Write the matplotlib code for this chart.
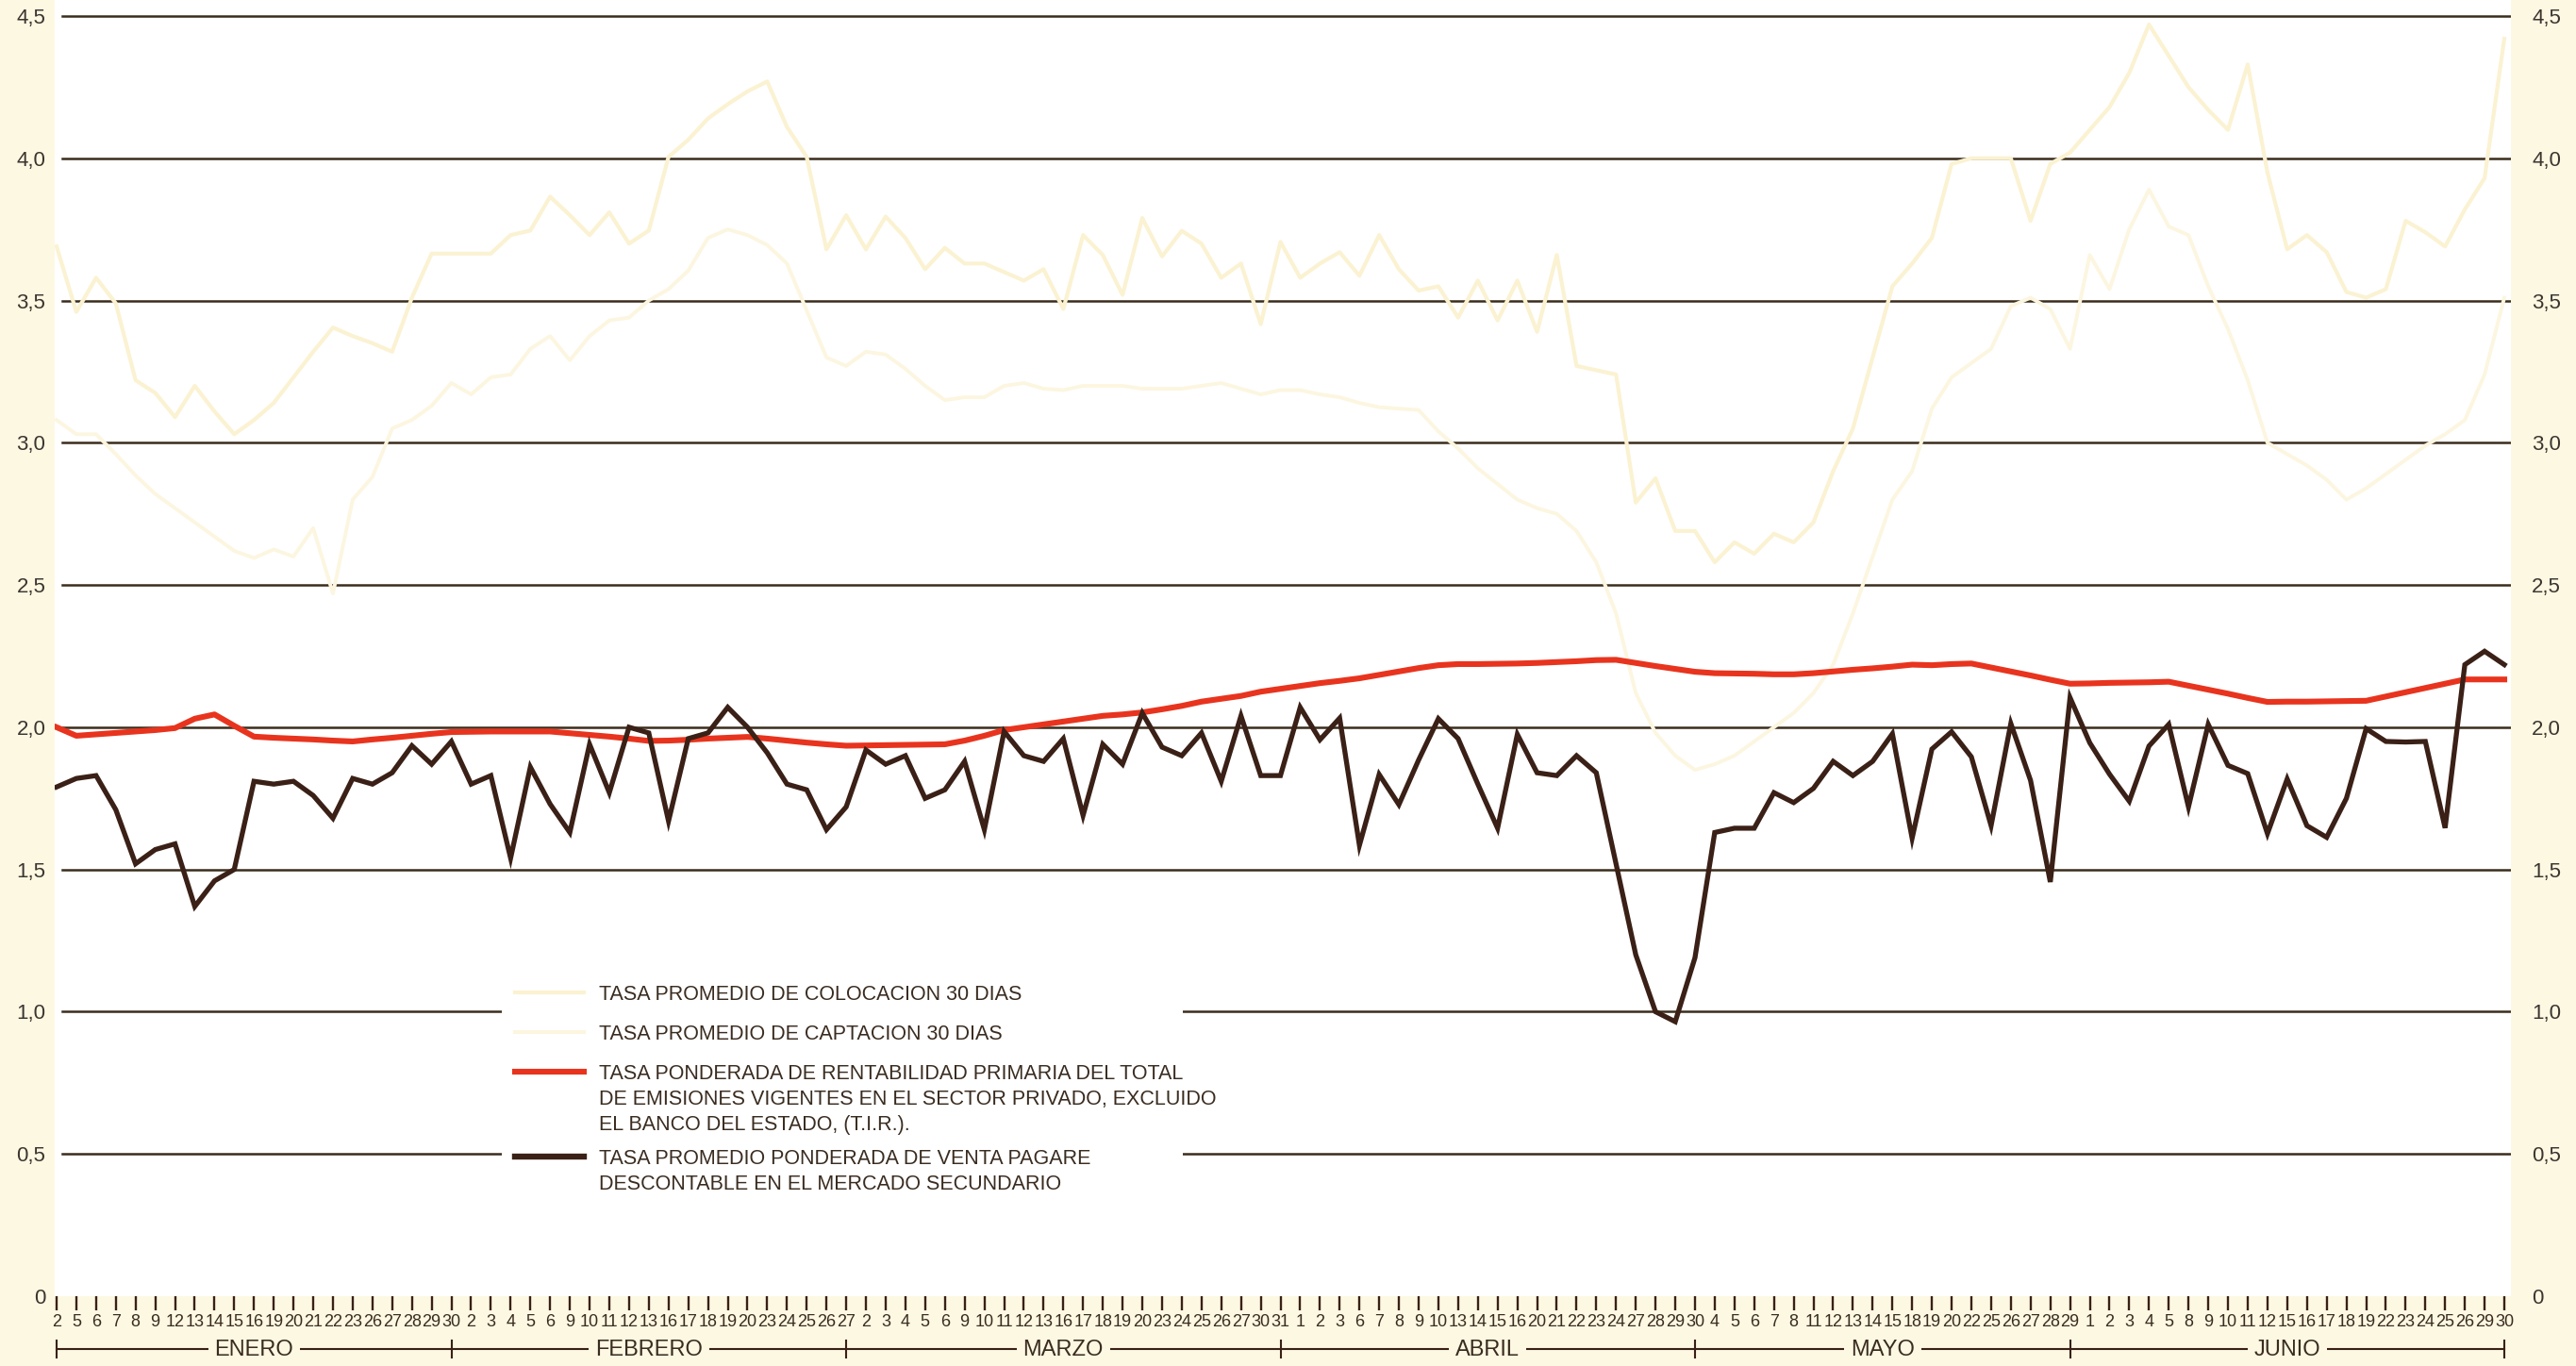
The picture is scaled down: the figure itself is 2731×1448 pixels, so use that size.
import matplotlib
matplotlib.use("Agg")
import matplotlib.pyplot as plt
import numpy as np
from matplotlib import font_manager as fm
from matplotlib.transforms import Affine2D, blended_transform_factory
from matplotlib.lines import Line2D
from matplotlib.patches import Rectangle

# ---------------- data ----------------
enero = [2, 5, 6, 7, 8, 9, 12, 13, 14, 15, 16, 19, 20, 21, 22, 23, 26, 27, 28, 29, 30]
febrero = [2, 3, 4, 5, 6, 9, 10, 11, 12, 13, 16, 17, 18, 19, 20, 23, 24, 25, 26, 27]
marzo = [2, 3, 4, 5, 6, 9, 10, 11, 12, 13, 16, 17, 18, 19, 20, 23, 24, 25, 26, 27, 30, 31]
abril = [1, 2, 3, 6, 7, 8, 9, 10, 13, 14, 15, 16, 20, 21, 22, 23, 24, 27, 28, 29, 30]
mayo = [4, 5, 6, 7, 8, 11, 12, 13, 14, 15, 18, 19, 20, 22, 25, 26, 27, 28, 29]
junio = [1, 2, 3, 4, 5, 8, 9, 10, 11, 12, 15, 16, 17, 18, 19, 22, 23, 24, 25, 26, 29, 30]
meses = ["ENERO", "FEBRERO", "MARZO", "ABRIL", "MAYO", "JUNIO"]

colocacion = [
    3.69, 3.46, 3.58, 3.49, 3.22, 3.175, 3.09, 3.20, 3.11, 3.03, 3.08, 3.14, 3.23, 3.32, 3.405, 3.375, 3.35, 3.32, 3.51, 3.665, 3.665,
    3.665, 3.665, 3.73, 3.746, 3.865, 3.80, 3.73, 3.81, 3.70, 3.746, 4.005, 4.065, 4.14, 4.19, 4.235, 4.27, 4.11, 4.005, 3.68, 3.80,
    3.68, 3.795, 3.72, 3.61, 3.685, 3.63, 3.63, 3.60, 3.57, 3.61, 3.47, 3.73, 3.66, 3.52, 3.79, 3.655, 3.745, 3.70, 3.58, 3.63, 3.417, 3.706,
    3.58, 3.63, 3.67, 3.587, 3.73, 3.61, 3.535, 3.55, 3.44, 3.57, 3.43, 3.57, 3.39, 3.66, 3.27, 3.255, 3.24, 2.79, 2.875, 2.69, 2.69,
    2.58, 2.65, 2.61, 2.68, 2.65, 2.72, 2.90, 3.05, 3.30, 3.55, 3.63, 3.72, 3.98, 4.0, 4.0, 4.0, 3.78, 3.98, 4.02,
    4.10, 4.18, 4.30, 4.47, 4.36, 4.25, 4.17, 4.10, 4.33, 3.95, 3.68, 3.73, 3.67, 3.53, 3.51, 3.54, 3.78, 3.74, 3.69, 3.82, 3.93, 4.42,
]
captacion = [
    3.08, 3.03, 3.03, 2.96, 2.885, 2.82, 2.77, 2.72, 2.67, 2.62, 2.595, 2.625, 2.60, 2.70, 2.47, 2.80, 2.88, 3.05, 3.08, 3.13, 3.21,
    3.17, 3.23, 3.24, 3.33, 3.375, 3.29, 3.375, 3.43, 3.44, 3.50, 3.54, 3.605, 3.72, 3.75, 3.73, 3.695, 3.63, 3.465, 3.30, 3.27,
    3.32, 3.31, 3.26, 3.20, 3.15, 3.16, 3.16, 3.20, 3.21, 3.19, 3.185, 3.20, 3.20, 3.20, 3.19, 3.19, 3.19, 3.20, 3.21, 3.19, 3.17, 3.185,
    3.185, 3.17, 3.16, 3.14, 3.125, 3.12, 3.115, 3.04, 2.98, 2.91, 2.855, 2.80, 2.77, 2.75, 2.69, 2.58, 2.40, 2.12, 1.98, 1.90, 1.85,
    1.87, 1.90, 1.95, 2.0, 2.05, 2.12, 2.22, 2.40, 2.60, 2.80, 2.90, 3.12, 3.23, 3.28, 3.33, 3.48, 3.51, 3.47, 3.33,
    3.66, 3.54, 3.75, 3.89, 3.76, 3.73, 3.55, 3.40, 3.22, 3.0, 2.96, 2.92, 2.87, 2.80, 2.84, 2.89, 2.94, 2.99, 3.03, 3.08, 3.24, 3.51,
]
tir = [
    2.00, 1.97, 1.975, 1.98, 1.985, 1.99, 1.997, 2.03, 2.045, 2.005, 1.967, 1.963, 1.96, 1.957, 1.953, 1.95, 1.957, 1.963, 1.97, 1.977, 1.983,
    1.984, 1.985, 1.985, 1.985, 1.985, 1.979, 1.973, 1.967, 1.96, 1.952, 1.953, 1.956, 1.96, 1.963, 1.966, 1.96, 1.953, 1.946, 1.94, 1.935,
    1.936, 1.937, 1.938, 1.939, 1.94, 1.953, 1.97, 1.99, 2.0, 2.01, 2.02, 2.03, 2.04, 2.045, 2.052, 2.063, 2.075, 2.09, 2.10, 2.11, 2.125, 2.135,
    2.145, 2.155, 2.163, 2.172, 2.184, 2.196, 2.208, 2.218, 2.222, 2.222, 2.223, 2.224, 2.226, 2.229, 2.232, 2.236, 2.237, 2.226, 2.215, 2.205, 2.195,
    2.19, 2.189, 2.188, 2.186, 2.186, 2.19, 2.196, 2.202, 2.207, 2.213, 2.22, 2.218, 2.222, 2.224, 2.21, 2.196, 2.182, 2.167, 2.153,
    2.154, 2.156, 2.157, 2.158, 2.16, 2.146, 2.132, 2.118, 2.103, 2.089, 2.09, 2.09, 2.091, 2.092, 2.093, 2.108, 2.123, 2.138, 2.153, 2.168, 2.168, 2.168,
]
pagare = [
    1.79, 1.82, 1.83, 1.71, 1.52, 1.57, 1.59, 1.37, 1.46, 1.50, 1.81, 1.80, 1.81, 1.76, 1.68, 1.82, 1.80, 1.84, 1.935, 1.87, 1.95,
    1.80, 1.83, 1.54, 1.86, 1.73, 1.63, 1.94, 1.77, 2.00, 1.98, 1.67, 1.96, 1.98, 2.07, 2.00, 1.91, 1.80, 1.78, 1.64, 1.72,
    1.92, 1.87, 1.90, 1.75, 1.78, 1.88, 1.64, 1.985, 1.90, 1.88, 1.96, 1.69, 1.94, 1.87, 2.05, 1.93, 1.90, 1.98, 1.81, 2.04, 1.83, 1.83,
    2.07, 1.956, 2.032, 1.585, 1.834, 1.728, 1.885, 2.03, 1.96, 1.80, 1.645, 1.975, 1.84, 1.83, 1.90, 1.84, 1.52, 1.20, 1.00, 0.965, 1.19,
    1.63, 1.645, 1.645, 1.77, 1.735, 1.785, 1.88, 1.83, 1.88, 1.977, 1.61, 1.923, 1.984, 1.896, 1.654, 2.013, 1.813, 1.456, 2.104,
    1.945, 1.835, 1.74, 1.934, 2.01, 1.72, 2.01, 1.866, 1.837, 1.626, 1.818, 1.654, 1.613, 1.75, 1.995, 1.95, 1.948, 1.95, 1.646, 2.22, 2.267, 2.22,
]
y_ticks = [0, 0.5, 1.0, 1.5, 2.0, 2.5, 3.0, 3.5, 4.0, 4.5]
y_tick_labels = ["0", "0,5", "1,0", "1,5", "2,0", "2,5", "3,0", "3,5", "4,0", "4,5"]

leyenda = [
    "TASA PROMEDIO DE COLOCACION 30 DIAS",
    "TASA PROMEDIO DE CAPTACION 30 DIAS",
    "TASA PONDERADA DE RENTABILIDAD PRIMARIA DEL TOTAL\nDE EMISIONES VIGENTES EN EL SECTOR PRIVADO, EXCLUIDO\nEL BANCO DEL ESTADO, (T.I.R.).",
    "TASA PROMEDIO PONDERADA DE VENTA PAGARE\nDESCONTABLE EN EL MERCADO SECUNDARIO",
]

# ---------------- style ----------------
CREAM = "#fcf8e2"
GRID = "#3b2d1c"
DARK = "#3a2016"
RED = "#e8341e"
COLOC = "#fbf2d2"
CAPT = "#fcf6e0"
TXT = "#3a2c20"


def font_ok(name):
    try:
        fm.findfont(fm.FontProperties(family=name), fallback_to_default=False)
        return True
    except Exception:
        return False


BASE = "Liberation Sans" if font_ok("Liberation Sans") else "DejaVu Sans"
NARROW = "Liberation Sans Narrow" if font_ok("Liberation Sans Narrow") else None

W, H = 2731, 1448
fig = plt.figure(figsize=(W / 100, H / 100), dpi=100, facecolor=CREAM)
AX_L, AX_R, AX_B = 58, 2662, 1374
ax = fig.add_axes([AX_L / W, 1 - AX_B / H, (AX_R - AX_L) / W, AX_B / H])
ax.set_facecolor("white")
for s in ax.spines.values():
    s.set_visible(False)

labels_dias = [str(d) for d in enero + febrero + marzo + abril + mayo + junio]
n = len(labels_dias)
x = np.arange(n)
step = 20.93  # px per trading day
ax.set_xlim(-2 / step, (n - 1) + 7 / step)
ax.set_ylim(0, 4.5 + 17 / 301.6)

# gridlines (no line at 0)
for v in y_ticks[1:]:
    ax.axhline(v, xmin=8 / (AX_R - AX_L), xmax=1.0, color=GRID, lw=1.8, zorder=1)

ax.plot(x, captacion, color=CAPT, lw=2.8, zorder=2)
ax.plot(x, colocacion, color=COLOC, lw=3.0, zorder=2)
ax.plot(x, tir, color=RED, lw=4.4, zorder=3)
ax.plot(x, pagare, color=DARK, lw=3.8, zorder=4, solid_joinstyle="miter")

# x ticks / day labels
if NARROW:
    day_font = dict(family=NARROW, size=15.5)
else:
    day_font = dict(family=BASE, size=13)
ax.set_xticks(x)
ax.set_xticklabels(labels_dias, color=TXT, **day_font)
ax.tick_params(axis="x", direction="out", length=11, width=1.7, color=DARK, pad=3)

# y ticks: left and right
ax.set_yticks(y_ticks)
ax.set_yticklabels(y_tick_labels, family=BASE, size=16, color="#3c3530")
ax.tick_params(axis="y", length=0, pad=7)
ax2 = ax.twinx()
ax2.set_ylim(ax.get_ylim())
ax2.set_yticks(y_ticks)
ax2.set_yticklabels(y_tick_labels, family=BASE, size=16, color="#3c3530")
ax2.tick_params(axis="y", length=0, pad=16)
for s in ax2.spines.values():
    s.set_visible(False)

# pixel transform (top-down image pixels)
pxT = Affine2D().scale(1 / 100, -1 / 100).translate(0, H / 100) + fig.dpi_scale_trans
bt = blended_transform_factory(ax.transData, pxT)

# month bracket
lens = [len(m) for m in (enero, febrero, marzo, abril, mayo, junio)]
ends = np.cumsum(lens) - 1
bounds = [0] + list(ends)
Y_M = 1430
fig.add_artist(Line2D([0, n - 1], [Y_M, Y_M], transform=bt, color=DARK, lw=1.5))
for b in bounds:
    fig.add_artist(Line2D([b, b], [Y_M - 9, Y_M + 9], transform=bt, color=DARK, lw=1.5))
for i, name in enumerate(meses):
    c = (bounds[i] + bounds[i + 1]) / 2
    fig.text(c, Y_M + 1, name, transform=bt, ha="center", va="center",
             family=BASE, size=17, color=TXT,
             bbox=dict(facecolor=CREAM, edgecolor="none", pad=5), zorder=5)

# legend (manual, to keep the original layout)
fig.add_artist(Rectangle((532, 1028), 722, 250, transform=pxT, facecolor="white",
                         edgecolor="none", zorder=3))
leg_fs = 15.5
em = leg_fs * 100 / 72
rows = [1052, 1094, 1136, 1226]
handles = [(COLOC, 3.0), (CAPT, 3.0), (RED, 4.4), (DARK, 4.6)]
ls = (26 / em - 0.21) / 0.73
for (col, lw), r, lab in zip(handles, rows, leyenda):
    fig.add_artist(Line2D([546, 619], [r, r], transform=pxT, color=col, lw=lw, zorder=4))
    fig.text(635, r - 0.36 * em, lab, transform=pxT, ha="left", va="top",
             family=BASE, size=leg_fs, color=TXT, linespacing=ls, zorder=4)

fig.savefig("out.png", dpi=100, facecolor=CREAM)
